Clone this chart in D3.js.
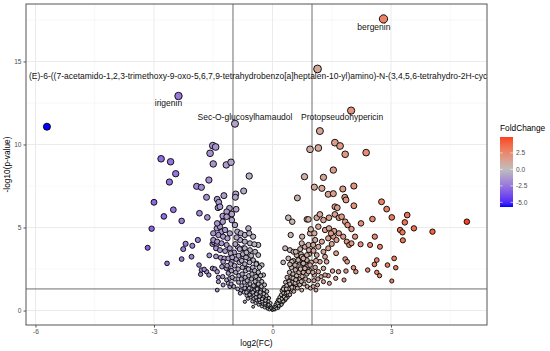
<!DOCTYPE html>
<html>
<head>
<meta charset="utf-8">
<script src="https://cdn.jsdelivr.net/npm/d3@7"></script>
<style>
  body { margin: 0; background: #fff; }
  svg { font-family: "Liberation Sans", Arial, sans-serif; }
</style>
</head>
<body>
<div id="chart"></div>
<script>
// [log2FC, -log10(p)]
const downRegulated = [
  [-5.71,11.07],[-2.82,9.14],[-2.58,8.96],[-1.51,9.93],[-1.44,9.85],[-1.58,9.47],[-1.50,8.83],[-1.17,8.77],[-1.05,8.93],
  [-2.45,8.24],[-2.61,7.74],[-1.61,7.86],[-1.92,7.48],[-1.80,7.42],[-3.00,6.52],[-2.51,6.07],[-2.75,5.67],[-1.85,5.86],
  [-1.65,5.61],[-1.67,6.82],[-1.40,6.70],[-1.36,6.52],[-1.23,6.92],[-1.38,6.19],[-1.33,6.25],[-1.09,6.16],[-1.16,5.95],
  [-1.03,5.81],[-1.26,5.69],[-2.30,5.40],[-3.06,4.93],[-3.16,3.78],[-2.67,2.84],[-2.30,3.10],[-2.05,3.24],[-2.26,3.70],
  [-2.20,4.02],[-2.03,3.90],[-1.89,4.25],[-1.86,2.74],[-1.80,2.44],[-1.82,2.18],[-1.67,2.34],[-1.61,2.14],[-1.73,2.48],
  [-1.60,3.32],[-1.52,2.54],[-1.46,2.50],[-1.52,4.01],[-1.48,4.11],[-1.41,3.99],[-1.43,3.26],[-1.31,3.18],[-1.22,3.14],
  [-1.40,2.34],[-1.28,2.64],[-1.17,2.54],[-1.07,2.44],[-1.37,2.00],[-1.26,2.04],[-1.16,1.84],[-1.08,1.94],
  [-1.41,4.95],[-1.33,5.05],[-1.29,4.75],[-1.20,4.85],[-1.37,4.55],[-1.25,4.45],[-1.14,4.35],[-1.08,4.65],[-1.50,4.25],
  [-1.40,4.15],[-1.29,4.05],[-1.16,3.95],[-1.08,3.75],[-1.43,3.75],[-1.33,3.64],[-1.20,3.58],[-1.06,3.45],[-1.03,5.45],
  [-1.16,5.65],[-1.26,5.35],[-1.40,5.25],[-1.50,4.65],[-1.12,3.14],[-1.03,2.94],[-1.25,2.94],[-1.40,1.23],[-1.37,1.74],
  [-1.25,1.54],[-1.12,1.64],[-1.08,1.44],[-1.05,1.60],[-1.02,2.00],[-1.12,2.25],[-1.04,2.40],[-1.06,2.80],[-1.15,2.70],
  [-1.02,3.20]
];

const upRegulated = [
  [1.20,10.81],[1.58,10.11],[1.71,9.91],[1.16,9.79],[1.84,9.41],[2.37,9.51],[1.54,8.46],[1.29,8.02],[1.06,7.43],
  [1.25,7.36],[1.41,7.00],[1.54,7.04],[1.78,7.32],[2.06,7.50],[1.83,6.82],[1.86,6.66],[2.06,6.31],[1.58,6.25],[1.64,6.19],
  [1.43,5.59],[1.58,5.79],[1.68,5.59],[1.75,5.65],[1.12,5.59],[1.20,5.79],[1.29,5.45],[1.16,5.05],[1.84,5.35],[1.90,5.15],
  [2.00,4.91],[2.09,4.45],[2.24,5.25],[2.53,5.51],[2.76,6.55],[2.89,6.11],[3.02,5.61],[3.41,5.75],[3.35,5.31],[3.23,4.85],
  [3.29,4.71],[3.58,4.95],[4.05,4.75],[3.30,4.23],[2.59,4.45],[2.47,3.95],[2.72,3.84],[2.23,3.99],[3.08,3.14],[3.12,2.58],
  [2.91,2.74],[2.64,3.04],[2.58,2.78],[2.41,2.44],[2.64,2.30],[2.71,2.10],[3.02,1.78],[2.05,2.58],[2.11,2.34],[1.84,3.10],
  [1.89,2.94],[1.61,3.45],[1.52,2.38],[1.67,2.34],[1.86,2.38],[1.41,2.10],[1.60,1.94],[1.81,1.84],[1.44,1.64],[1.29,1.74],
  [1.14,1.54],[1.10,1.23],[1.33,4.85],[1.43,4.95],[1.56,4.79],[1.68,4.65],[1.79,4.45],[1.88,4.15],[1.94,3.95],[2.00,4.05],
  [1.54,4.45],[1.62,4.25],[1.41,4.35],[1.25,4.15],[1.16,3.84],[1.29,3.54],[1.41,3.75],[1.33,3.24],[1.20,2.94],[1.37,2.94],
  [1.12,3.34],[1.50,4.01],[1.08,4.25],[1.48,4.65],[1.06,4.65],[1.03,3.95],[1.29,2.54],[1.16,2.34],[1.23,2.04],[1.06,2.14],
  [1.33,2.14],[1.03,1.45],[1.05,1.80],[1.08,2.60],[1.10,3.00],[1.02,2.30],[1.15,1.90],[1.04,3.60],[4.92,5.35]
];

const notSignificant = [
  [-0.59,8.10],[-0.93,7.02],[-0.94,6.82],[-0.73,7.20],[-0.92,6.10],[-0.95,5.15],[-0.89,4.75],[-0.80,4.65],[-0.70,4.55],
  [-0.61,4.95],[-0.59,4.65],[-0.49,4.45],[-0.36,3.95],[-0.82,4.25],[-0.70,4.15],[-0.57,4.05],[-0.46,3.99],[-0.88,3.84],
  [-0.74,3.75],[-0.70,3.75],[-0.57,3.64],[-0.44,3.54],[-0.36,3.34],[-0.74,3.24],[-0.61,3.14],[-0.49,3.04],[-0.40,2.84],
  [-0.27,2.74],[-0.65,2.54],[-0.53,2.44],[-0.36,2.24],[-0.23,2.14],
  [-0.98,1.45],[-0.95,1.90],[-0.93,2.30],[-0.96,2.70],[-0.92,3.10],[-0.97,3.50],[-0.94,4.00],[-0.91,4.40],
  [-0.88,1.30],[-0.86,1.70],[-0.85,2.10],[-0.87,2.50],[-0.84,2.90],[-0.86,3.30],[-0.83,3.70],
  [-0.80,1.20],[-0.78,1.50],[-0.79,1.90],[-0.77,2.20],[-0.76,2.60],[-0.78,3.00],[-0.75,3.40],
  [-0.72,1.10],[-0.70,1.35],[-0.71,1.70],[-0.69,2.00],[-0.68,2.40],[-0.70,2.80],[-0.67,3.20],[-0.66,3.50],
  [-0.70,0.53],[-0.82,1.04],[-0.65,0.90],[-0.63,1.20],[-0.62,1.50],[-0.64,1.80],[-0.60,2.10],[-0.61,2.50],[-0.58,2.90],
  [-0.56,0.80],[-0.55,1.05],[-0.54,1.30],[-0.57,1.60],[-0.53,1.90],[-0.52,2.20],[-0.50,2.60],[-0.54,3.30],
  [-0.49,0.23],[-0.48,0.70],[-0.47,0.95],[-0.46,1.20],[-0.45,1.45],[-0.44,1.75],[-0.42,2.05],[-0.45,2.40],[-0.41,2.80],
  [-0.40,0.60],[-0.39,0.85],[-0.38,1.10],[-0.37,1.35],[-0.36,1.60],[-0.34,1.90],[-0.36,2.30],[-0.33,2.60],
  [-0.32,0.50],[-0.31,0.75],[-0.30,0.95],[-0.29,1.20],[-0.28,1.45],[-0.27,1.75],[-0.30,2.10],
  [-0.25,0.40],[-0.24,0.60],[-0.23,0.80],[-0.22,1.00],[-0.21,1.25],[-0.20,1.55],
  [-0.18,0.30],[-0.17,0.50],[-0.16,0.70],[-0.15,0.90],[-0.14,1.15],
  [-0.12,0.20],[-0.11,0.38],[-0.10,0.55],[-0.09,0.75],
  [-0.07,0.12],[-0.06,0.28],[-0.05,0.45],[-0.03,0.08],[-0.02,0.20],
  [-0.62,0.72],[-0.58,0.95],[-0.51,0.55],[-0.43,0.45],[-0.42,0.80],[-0.35,0.35],[-0.34,0.65],[-0.27,0.25],[-0.26,0.55],
  [-0.20,0.18],[-0.19,0.42],[-0.13,0.10],[-0.12,0.30],[-0.08,0.05],[-0.04,0.15],[-0.01,0.02],[-0.50,1.10],[-0.41,1.00],
  [-0.33,0.85],[-0.26,0.70],[-0.18,0.60],[-0.10,0.35],[-0.66,1.10],[-0.59,1.35],[-0.48,1.50],[-0.39,1.30],[-0.31,1.10],
  [0.01,0.03],[0.03,0.12],[0.05,0.25],[0.06,0.05],[0.08,0.38],[0.09,0.18],[0.11,0.50],[0.12,0.30],[0.14,0.65],
  [0.15,0.15],[0.17,0.45],[0.18,0.80],[0.20,0.30],[0.21,0.60],[0.22,0.95],[0.24,1.20],[0.25,0.45],[0.26,0.75],
  [0.28,1.05],[0.29,1.40],[0.30,0.60],[0.31,0.90],[0.32,1.25],[0.33,1.70],[0.32,0.63],[0.35,1.05],[0.36,1.50],
  [0.37,2.00],[0.38,0.80],[0.40,0.93],[0.41,1.30],[0.42,1.75],[0.43,2.30],[0.45,1.10],[0.46,1.50],[0.47,2.00],
  [0.48,2.60],[0.50,1.25],[0.51,1.70],[0.52,2.20],[0.53,3.00],[0.55,1.40],[0.56,1.90],[0.58,2.45],[0.60,1.55],
  [0.61,2.10],[0.62,2.70],[0.64,3.30],[0.66,1.70],[0.67,2.30],[0.68,3.00],[0.70,1.90],[0.71,2.50],[0.72,3.40],
  [0.74,1.23],[0.75,2.05],[0.76,2.80],[0.78,2.30],[0.79,3.20],[0.80,1.60],[0.82,2.55],[0.84,1.90],[0.85,3.00],
  [0.87,2.20],[0.88,1.45],[0.90,2.70],[0.92,1.80],[0.93,3.40],[0.95,2.40],[0.96,1.35],[0.98,2.90],
  [0.04,0.08],[0.07,0.20],[0.10,0.12],[0.13,0.42],[0.16,0.28],[0.19,0.55],[0.23,0.35],[0.27,0.55],[0.29,0.82],
  [0.34,0.72],[0.39,1.10],[0.44,0.95],[0.49,1.40],[0.54,1.15],[0.57,1.65],[0.63,1.35],[0.69,1.55],[0.73,1.75],
  [0.23,0.70],[0.17,0.62],[0.27,1.30],[0.35,1.30],[0.44,1.60],[0.52,1.95],[0.59,1.85],
  [0.32,3.75],[0.44,3.64],[0.53,3.54],[0.61,3.34],[0.40,3.14],[0.49,2.94],[0.57,2.74],[0.65,3.04],[0.74,3.24],
  [0.78,2.84],[0.87,3.04],[0.82,2.54],[0.91,2.34],[0.95,2.74],[0.27,2.90],[0.44,2.78],[0.78,3.14],[0.87,3.34],
  [0.92,3.64],[0.59,3.54],[0.70,3.70],[0.82,3.84],[0.91,3.95],[0.74,4.05],[0.46,4.55],[0.75,4.45],[0.95,4.65],
  [0.97,4.89],[0.40,5.59],[0.50,5.35],[0.87,5.49],[0.91,5.49],[0.63,6.78],[0.81,8.06],[0.95,9.71]
];

const labelNames = ["bergenin", "(E)-6-((7-acetamido-1,2,3-trimethoxy-9-oxo-5,6,7,9-tetrahydrobenzo[a]heptalen-10-yl)amino)-N-(3,4,5,6-tetrahydro-2H-cyclopenta[b]pyran-2-yl)hexanamide", "irigenin", "Sec-O-glucosylhamaudol", "Protopseudohypericin"];
const labelFC = [2.81, 1.14, -2.38, -0.95, 1.99];
const labelP = [17.56, 14.55, 12.92, 11.25, 12.04];

const xTicks = [-6, -3, 0, 3];
const yTicks = [0, 5, 10, 15];
const legendTicks = [2.5, 0, -2.5, -5];

const W = 550, H = 351;
const panel = { left: 26, top: 4, right: 487, bottom: 325 };

const svg = d3.select("#chart").append("svg")
  .attr("width", W).attr("height", H);

const x = d3.scaleLinear().domain([-6.24, 5.43]).range([panel.left, panel.right]);
const y = d3.scaleLinear().domain([-0.87, 18.46]).range([panel.bottom, panel.top]);

const labelled = labelNames.map((n, i) => [labelFC[i], labelP[i]]);
const allPoints = notSignificant.concat(downRegulated, upRegulated, labelled);

const fcMin = d3.min(allPoints, d => d[0]);
const fcMax = d3.max(allPoints, d => d[0]);
const M = Math.max(Math.abs(fcMin), Math.abs(fcMax));
const color = d3.scaleLinear()
  .domain([-M, 0, M])
  .range(["#0000ff", "#bebebe", "#ff0000"])
  .interpolate(d3.interpolateLab);
const size = d3.scaleSqrt().domain([0, 18]).range([1.1, 4.2]);

// grid
const gGrid = svg.append("g");
const minorX = [-4.5, -1.5, 1.5, 4.5];
const minorY = [2.5, 7.5, 12.5, 17.5];
gGrid.selectAll(".mx").data(minorX).enter().append("line")
  .attr("x1", d => x(d)).attr("x2", d => x(d))
  .attr("y1", panel.top).attr("y2", panel.bottom)
  .attr("stroke", "#f0f0f0").attr("stroke-width", 0.5);
gGrid.selectAll(".my").data(minorY).enter().append("line")
  .attr("y1", d => y(d)).attr("y2", d => y(d))
  .attr("x1", panel.left).attr("x2", panel.right)
  .attr("stroke", "#f0f0f0").attr("stroke-width", 0.5);
gGrid.selectAll(".gx").data(xTicks).enter().append("line")
  .attr("x1", d => x(d)).attr("x2", d => x(d))
  .attr("y1", panel.top).attr("y2", panel.bottom)
  .attr("stroke", "#ebebeb").attr("stroke-width", 1);
gGrid.selectAll(".gy").data(yTicks).enter().append("line")
  .attr("y1", d => y(d)).attr("y2", d => y(d))
  .attr("x1", panel.left).attr("x2", panel.right)
  .attr("stroke", "#ebebeb").attr("stroke-width", 1);

// threshold lines
const gRef = svg.append("g").attr("stroke", "#6e6e6e").attr("stroke-width", 1);
[-1, 1].forEach(v => {
  gRef.append("line").attr("x1", x(v)).attr("x2", x(v))
    .attr("y1", panel.top).attr("y2", panel.bottom);
});
gRef.append("line").attr("x1", panel.left).attr("x2", panel.right)
  .attr("y1", y(-Math.log10(0.05))).attr("y2", y(-Math.log10(0.05)));

// clip
svg.append("clipPath").attr("id", "clipPanel").append("rect")
  .attr("x", panel.left).attr("y", panel.top)
  .attr("width", panel.right - panel.left).attr("height", panel.bottom - panel.top);

// points
svg.append("g").attr("clip-path", "url(#clipPanel)")
  .selectAll("circle").data(allPoints).enter().append("circle")
  .attr("cx", d => x(d[0]))
  .attr("cy", d => y(d[1]))
  .attr("r", d => size(d[1]))
  .attr("fill", d => color(d[0]))
  .attr("stroke", "#000")
  .attr("stroke-width", 0.9);

// labels
const labelOffsets = [
  { dx: -9.6, dy: 11, anchor: "middle" },
  { dx: -288.5, dy: 10, anchor: "start" },
  { dx: -10, dy: 10, anchor: "middle" },
  { dx: 10, dy: -4, anchor: "middle" },
  { dx: -9, dy: 9.5, anchor: "middle" }
];
svg.append("g").attr("clip-path", "url(#clipPanel)")
  .selectAll("text").data(labelNames).enter().append("text")
  .attr("x", (d, i) => x(labelFC[i]) + labelOffsets[i].dx)
  .attr("y", (d, i) => y(labelP[i]) + labelOffsets[i].dy)
  .attr("text-anchor", (d, i) => labelOffsets[i].anchor)
  .attr("font-size", "8.5px")
  .attr("fill", "#111")
  .text(d => d);

// panel border
svg.append("rect")
  .attr("x", panel.left).attr("y", panel.top)
  .attr("width", panel.right - panel.left).attr("height", panel.bottom - panel.top)
  .attr("fill", "none").attr("stroke", "#555").attr("stroke-width", 1);

// axes
const xAxis = svg.append("g")
  .attr("transform", `translate(0,${panel.bottom})`)
  .call(d3.axisBottom(x).tickValues(xTicks).tickSize(2.5).tickPadding(2).tickFormat(d3.format("d")));
const yAxis = svg.append("g")
  .attr("transform", `translate(${panel.left},0)`)
  .call(d3.axisLeft(y).tickValues(yTicks).tickSize(2.5).tickPadding(2).tickFormat(d3.format("d")));
[xAxis, yAxis].forEach(a => {
  a.select(".domain").remove();
  a.selectAll("line").attr("stroke", "#555");
  a.selectAll("text").attr("fill", "#4d4d4d").style("font-size", "6.6px")
    .style("font-family", '"Liberation Sans", Arial, sans-serif');
});
xAxis.selectAll("text").text(d => d < 0 ? "-" + Math.abs(d) : d);
yAxis.selectAll("text").text(d => d < 0 ? "-" + Math.abs(d) : d);

svg.append("text")
  .attr("x", (panel.left + panel.right) / 2).attr("y", 346)
  .attr("text-anchor", "middle").attr("font-size", "8.3px").attr("fill", "#000")
  .text("log2(FC)");
svg.append("text")
  .attr("transform", `translate(10,${(panel.top + panel.bottom) / 2}) rotate(-90)`)
  .attr("text-anchor", "middle").attr("font-size", "8.3px").attr("fill", "#000")
  .text("-log10(p-value)");

// legend
const legY = d3.scaleLinear().domain([fcMin, fcMax]).range([207, 137]);
const grad = svg.append("defs").append("linearGradient")
  .attr("id", "fcGrad").attr("x1", 0).attr("x2", 0).attr("y1", 1).attr("y2", 0);
d3.range(0, 1.0001, 0.05).forEach(t => {
  const v = fcMin + t * (fcMax - fcMin);
  grad.append("stop").attr("offset", t).attr("stop-color", color(v));
});
svg.append("text").attr("x", 500).attr("y", 131)
  .attr("font-size", "8.3px").attr("fill", "#000").text("FoldChange");
svg.append("rect").attr("x", 500).attr("y", 137).attr("width", 13).attr("height", 70)
  .attr("fill", "url(#fcGrad)");
const legG = svg.append("g");
legendTicks.forEach(t => {
  legG.append("line").attr("x1", 500).attr("x2", 502.6).attr("y1", legY(t)).attr("y2", legY(t))
    .attr("stroke", "#fff").attr("stroke-width", 0.6);
  legG.append("line").attr("x1", 510.4).attr("x2", 513).attr("y1", legY(t)).attr("y2", legY(t))
    .attr("stroke", "#fff").attr("stroke-width", 0.6);
  legG.append("text").attr("x", 516).attr("y", legY(t) + 2.3)
    .attr("font-size", "6.6px").attr("fill", "#4d4d4d")
    .text(t.toFixed(1));
});
</script>
</body>
</html>
